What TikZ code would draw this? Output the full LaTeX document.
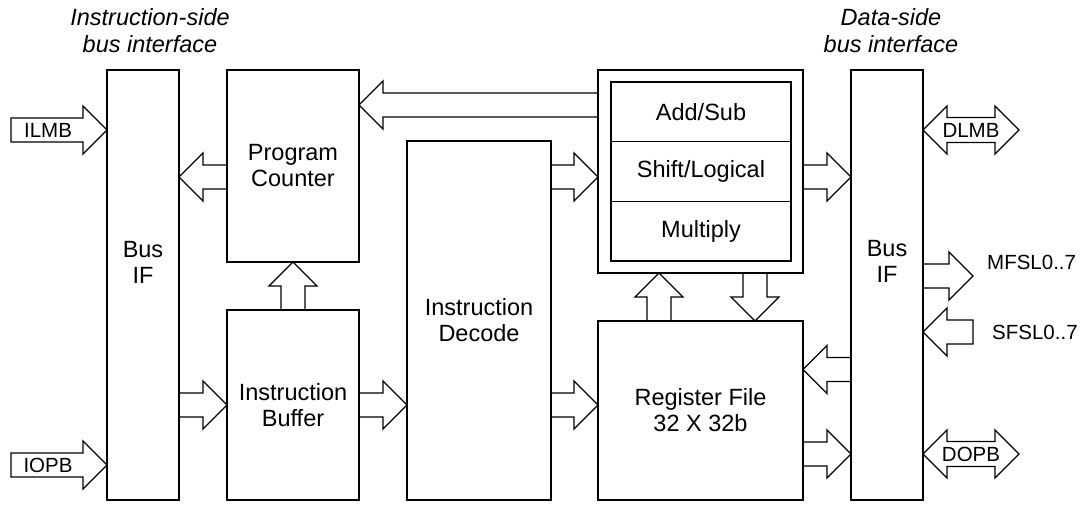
\documentclass[tikz,border=0pt]{standalone}
\usepackage{fontspec}
\setmainfont{Liberation Sans}
\usetikzlibrary{calc,positioning}
\tikzset{>=latex}

% hollow bus arrow, tail -> tip
\newcommand{\busarrow}[2]{%
  \coordinate (ba-t) at (#1);
  \coordinate (ba-h) at (#2);
  \coordinate (ba-b) at ($(ba-h)!24pt!(ba-t)$);
  \draw[busline] ($(ba-t)!12pt!90:(ba-h)$) -- ($(ba-b)!12pt!90:(ba-h)$) -- ($(ba-b)!24pt!90:(ba-h)$) -- (ba-h)
    -- ($(ba-b)!24pt!-90:(ba-h)$) -- ($(ba-b)!12pt!-90:(ba-h)$) -- ($(ba-t)!12pt!-90:(ba-h)$) -- cycle;
}
% hollow bus arrow with two heads
\newcommand{\bibusarrow}[2]{%
  \coordinate (bb-a) at (#1);
  \coordinate (bb-z) at (#2);
  \coordinate (bb-p) at ($(bb-a)!24pt!(bb-z)$);
  \coordinate (bb-q) at ($(bb-z)!24pt!(bb-a)$);
  \draw[busline] (bb-a) -- ($(bb-p)!24pt!90:(bb-z)$) -- ($(bb-p)!12.5pt!90:(bb-z)$) -- ($(bb-q)!12.5pt!90:(bb-z)$)
    -- ($(bb-q)!24pt!90:(bb-z)$) -- (bb-z) -- ($(bb-q)!24pt!-90:(bb-z)$) -- ($(bb-q)!12.5pt!-90:(bb-z)$)
    -- ($(bb-p)!12.5pt!-90:(bb-z)$) -- ($(bb-p)!24pt!-90:(bb-z)$) -- cycle;
}

\begin{document}
\begin{tikzpicture}[
    x = 1pt, y = -1pt,
    blk/.style = {draw, line width = 2.6pt, align = center, inner sep = 0pt, outer sep = 0pt, font = \fontsize{23.5}{26}\selectfont},
    unit/.style = {draw, line width = 1.4pt, minimum width = 180pt, minimum height = 59.67pt, inner sep = 0pt, outer sep = 0pt, font = \fontsize{23.5}{26}\selectfont},
    txt/.style = {align = center, inner sep = 0pt, font = \fontsize{23.5}{26}\selectfont},
    busline/.style = {line width = 1.3pt, line join = miter},
    buslabel/.style = {inner sep = 0pt, font = \fontsize{20.5}{24}\selectfont},
    hdr/.style = {align = center, inner sep = 0pt, font = \itshape\fontsize{23.5}{27}\selectfont},
]
\useasboundingbox (0,0) rectangle (1083,504);

% headers
\node[hdr] (ihdr) at (150,31) {Instruction-side\\bus interface};
\node[hdr] (dhdr) at (891,31) {Data-side\\bus interface};

% blocks
\node[blk, minimum width = 72pt, minimum height = 430pt] (busl) at (143,285) {};
\node[txt] (busl-t) at (143,262) {Bus\\IF};
\node[blk, minimum width = 132pt, minimum height = 192pt] (pc) at (293,166) {Program\\Counter};
\node[blk, minimum width = 132pt, minimum height = 190pt] (ib) at (293,405) {Instruction\\Buffer};
\node[blk, minimum width = 144pt, minimum height = 359pt] (dec) at (479,320.5) {Instruction\\Decode};
\node[blk, minimum width = 205pt, minimum height = 203pt] (alu) at (700.5,171.5) {};
\node[unit, anchor = north] (add) at (701,82) {Add/Sub};
\node[unit, below = 0pt of add] (shift) {Shift/Logical};
\node[unit, below = 0pt of shift] (mul) {Multiply};
\node[blk, minimum width = 205pt, minimum height = 179pt] (rf) at (700.5,410.5) {Register File\\32 X 32b};
\node[blk, minimum width = 72pt, minimum height = 430pt] (busr) at (887,285) {};
\node[txt] (busr-t) at (887,261) {Bus\\IF};

% rows and columns of the buses
\coordinate (r-top) at (0,105);
\coordinate (r-lmb) at (0,130);
\coordinate (r-mid) at (0,177);
\coordinate (r-mfsl) at (0,276);
\coordinate (r-sfsl) at (0,332);
\coordinate (r-rfin) at (0,369.5);
\coordinate (r-low) at (0,405);
\coordinate (r-opb) at (0,454);
\coordinate (r-iopb) at (0,465);
\coordinate (c-up) at (659,0);
\coordinate (c-down) at (755,0);
\coordinate (ilmb-t) at (11,130);
\coordinate (iopb-t) at (11,465);
\coordinate (dlmb-e) at (1019,130);
\coordinate (dopb-e) at (1019,454);
\coordinate (mfsl-e) at (973,276);
\coordinate (sfsl-t) at (973,332);

% instruction side
\busarrow{ilmb-t}{busl.west |- r-lmb}
\busarrow{iopb-t}{busl.west |- r-iopb}
\busarrow{pc.west |- r-mid}{busl.east |- r-mid}
\busarrow{busl.east |- r-low}{ib.west |- r-low}
\busarrow{ib.north}{pc.south}
\busarrow{ib.east |- r-low}{dec.west |- r-low}
\busarrow{alu.west |- r-top}{pc.east |- r-top}
\busarrow{dec.east |- r-mid}{alu.west |- r-mid}
\busarrow{dec.east |- r-low}{rf.west |- r-low}
\busarrow{rf.north -| c-up}{alu.south -| c-up}
\busarrow{alu.south -| c-down}{rf.north -| c-down}

% data side
\busarrow{alu.east |- r-mid}{busr.west |- r-mid}
\busarrow{busr.west |- r-rfin}{rf.east |- r-rfin}
\busarrow{rf.east |- r-opb}{busr.west |- r-opb}
\bibusarrow{busr.east |- r-lmb}{dlmb-e}
\bibusarrow{busr.east |- r-opb}{dopb-e}
\busarrow{busr.east |- r-mfsl}{mfsl-e}
\busarrow{sfsl-t}{busr.east |- r-sfsl}

% bus names
\node[buslabel] (ilmb) at (48,130) {ILMB};
\node[buslabel] (iopb) at (48,465) {IOPB};
\node[buslabel] (dlmb) at (971,130) {DLMB};
\node[buslabel] (dopb) at (971,454) {DOPB};
\node[buslabel, anchor = west] (mfsl) at (987,262) {MFSL0..7};
\node[buslabel, anchor = west] (sfsl) at (992,332) {SFSL0..7};
\end{tikzpicture}
\end{document}
